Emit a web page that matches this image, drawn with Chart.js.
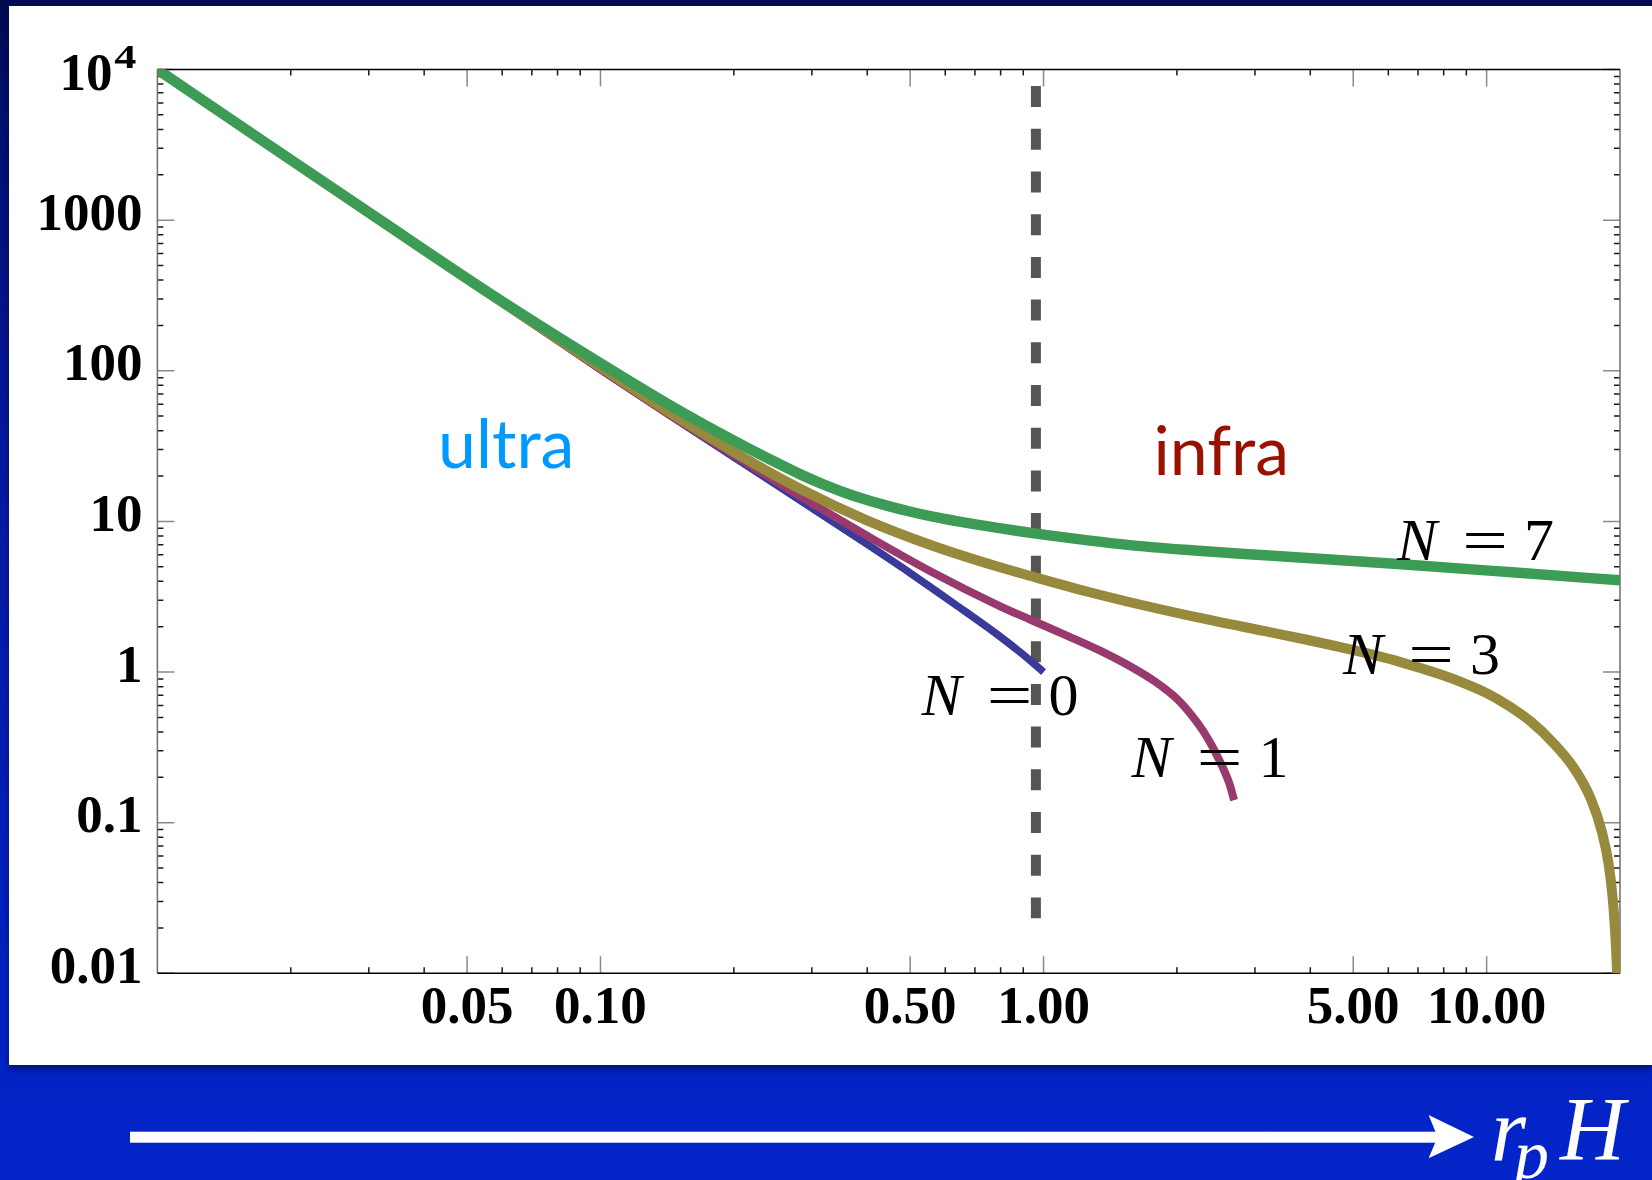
<!DOCTYPE html>
<html>
<head>
<meta charset="utf-8">
<script src="https://cdn.jsdelivr.net/npm/chart.js@4.4.1/dist/chart.umd.min.js"></script>
<style>
html,body{margin:0;padding:0;width:1652px;height:1180px;overflow:hidden;}
body{position:relative;background:linear-gradient(180deg,#000b52 0px,#00106c 100px,#0719a0 450px,#0520bd 850px,#0425c9 1180px);}
#panel{position:absolute;left:9px;top:6px;width:1643px;height:1059px;background:#fff;box-shadow:0 4px 7px rgba(0,0,40,0.55);}
#chart{position:absolute;left:0;top:0;}
#deco{position:absolute;left:0;top:0;}
</style>
</head>
<body>
<div id="panel"></div>
<canvas id="chart" width="1652" height="1180"></canvas>
<svg id="deco" width="1652" height="1180" xmlns="http://www.w3.org/2000/svg">
  <rect x="130" y="1131.7" width="1310" height="11" fill="#fff"/>
  <polygon points="1428.6,1115 1474,1137 1428.6,1158.3 1437.6,1137" fill="#fff"/>
  <text x="1491" y="1160" fill="#fff" font-family="'Liberation Serif', serif" font-style="italic" font-size="90">r</text>
  <text x="1514" y="1178" fill="#fff" font-family="'Liberation Serif', serif" font-style="italic" font-size="70">p</text>
  <text x="1560" y="1160" fill="#fff" font-family="'Liberation Serif', serif" font-style="italic" font-size="90">H</text>
</svg>
<script>
// ---- axis ranges and ticks ----
const xMin = 0.01, xMax = 20;
const yMin = 0.01, yMax = 10000;
const xTickValues = [0.05, 0.1, 0.5, 1, 5, 10];
const xTickLabels = ["0.05", "0.10", "0.50", "1.00", "5.00", "10.00"];
const xMinorTicks = [0.02,0.03,0.04,0.06,0.07,0.08,0.09,0.2,0.3,0.4,0.6,0.7,0.8,0.9,2,3,4,6,7,8,9];
const yTickValues = [0.01, 0.1, 1, 10, 100, 1000, 10000];
const yTickLabels = ["0.01", "0.1", "1", "10", "100", "1000", "10^4"];
const yMinorTicks = [];
[0.01,0.1,1,10,100,1000].forEach(d => { for (let k = 2; k <= 9; k++) yMinorTicks.push(+(d*k).toPrecision(3)); });

// ---- series ----
const xN0 = [0.01, 0.0316, 0.0562, 0.1, 0.158, 0.251, 0.398, 0.501, 0.631, 0.794, 0.891, 1.0];
const yN0 = [10000, 1005, 321.4, 101.9, 41.9, 17.3, 7.11, 4.52, 2.818, 1.738, 1.334, 1.0];

const xN1 = [0.01, 0.0316, 0.0562, 0.1, 0.141, 0.2, 0.282, 0.398, 0.562, 0.794, 0.94, 1.122, 1.334, 1.585, 1.778, 1.995, 2.163, 2.291, 2.399, 2.483, 2.57, 2.63, 2.692];
const yN1 = [10000, 1005, 322.1, 102.3, 52.5, 27.5, 14.7, 8.09, 4.58, 2.754, 2.208, 1.758, 1.396, 1.072, 0.871, 0.668, 0.513, 0.407, 0.324, 0.266, 0.214, 0.18, 0.141];

const xN3 = [0.01, 0.0316, 0.0562, 0.1, 0.141, 0.2, 0.282, 0.398, 0.562, 0.794, 0.94, 1.259, 1.585, 2.239, 3.162, 3.758, 5.012, 6.31, 7.943, 8.913, 10, 11.22, 12.59, 14.13, 15.85, 17.18, 18.2, 18.84, 19.28, 19.59, 19.77];
const yN3 = [10000, 1007, 323.6, 105.9, 54.5, 28.97, 16.48, 10.21, 6.90, 4.98, 4.32, 3.41, 2.884, 2.296, 1.866, 1.683, 1.396, 1.178, 0.955, 0.841, 0.724, 0.596, 0.468, 0.339, 0.224, 0.1445, 0.0871, 0.0537, 0.0302, 0.0148, 0.00794];

const xN7 = [0.01, 0.01778, 0.03162, 0.05623, 0.1, 0.1413, 0.1995, 0.2512, 0.2818, 0.3162, 0.3548, 0.3981, 0.4467, 0.5012, 0.5623, 0.631, 0.7079, 0.7943, 0.8913, 1.0, 1.259, 1.585, 2.239, 3.162, 6.31, 11.22, 20];
const yN7 = [10000, 3177, 1014, 326.6, 112.2, 60.7, 34.5, 24.3, 20.6, 17.74, 15.56, 13.9, 12.62, 11.59, 10.76, 10.09, 9.51, 9.02, 8.57, 8.17, 7.48, 6.93, 6.38, 5.96, 5.21, 4.61, 4.06];

const dividerX = [0.961, 0.961];
const dividerY = [7760, 0.0232];

// ---- text annotations (anchor in data coordinates) ----
const regionLabels = [
  { text: "ultra", x: 0.0430, y: 22.6, color: "#0099ff" },
  { text: "infra", x: 1.770, y: 20.3, color: "#991100" }
];
const curveLabels = [
  { n: "7", x: 6.277, y: 5.53 },
  { n: "3", x: 4.74, y: 0.968 },
  { n: "0", x: 0.5304, y: 0.5174 },
  { n: "1", x: 1.580, y: 0.2005 }
];

const pts = (xs, ys) => xs.map((x, i) => ({ x: x, y: ys[i] }));
const tickFamily = '"Liberation Serif", "Times New Roman", serif';

const framePlugin = {
  id: 'frameTicks',
  beforeDatasetsDraw(chart) {
    const { ctx, chartArea: a, scales } = chart;
    const sx = scales.x, sy = scales.y;
    ctx.save();
    ctx.lineCap = 'butt';
    function xt(vals, len, color, w) {
      ctx.strokeStyle = color; ctx.lineWidth = w;
      vals.forEach(v => {
        const p = sx.getPixelForValue(v);
        ctx.beginPath();
        ctx.moveTo(p, a.bottom); ctx.lineTo(p, a.bottom - len);
        ctx.moveTo(p, a.top); ctx.lineTo(p, a.top + len);
        ctx.stroke();
      });
    }
    function yt(vals, len, color, w) {
      ctx.strokeStyle = color; ctx.lineWidth = w;
      vals.forEach(v => {
        const p = sy.getPixelForValue(v);
        ctx.beginPath();
        ctx.moveTo(a.left, p); ctx.lineTo(a.left + len, p);
        ctx.moveTo(a.right, p); ctx.lineTo(a.right - len, p);
        ctx.stroke();
      });
    }
    xt(xMinorTicks, 6, '#1a1a1a', 1.5);
    xt(xTickValues, 17, '#8a8a8a', 1.5);
    yt(yMinorTicks, 6, '#1a1a1a', 1.5);
    yt(yTickValues, 17, '#8a8a8a', 1.5);
    ctx.lineWidth = 1.5;
    ctx.strokeStyle = '#6e6e6e';
    ctx.beginPath();
    ctx.moveTo(a.left, a.top); ctx.lineTo(a.left, a.bottom);
    ctx.moveTo(a.right, a.top); ctx.lineTo(a.right, a.bottom);
    ctx.stroke();
    ctx.strokeStyle = '#000';
    ctx.beginPath();
    ctx.moveTo(a.left, a.top); ctx.lineTo(a.right, a.top);
    ctx.moveTo(a.left, a.bottom); ctx.lineTo(a.right, a.bottom);
    ctx.stroke();
    // tick labels with a power (e.g. 10^4)
    ctx.fillStyle = '#000';
    ctx.textAlign = 'right';
    ctx.textBaseline = 'alphabetic';
    yTickLabels.forEach((lab, i) => {
      if (lab.indexOf('^') < 0) return;
      const [base, pw] = lab.split('^');
      const py = sy.getPixelForValue(yTickValues[i]);
      ctx.font = 'bold 53px ' + tickFamily;
      ctx.fillText(base, a.left - 45, py + 20.5);
      ctx.save();
      ctx.translate(a.left - 21, py - 1.5);
      ctx.scale(1.3, 1);
      ctx.font = 'bold 34px ' + tickFamily;
      ctx.fillText(pw, 0, 0);
      ctx.restore();
    });
    ctx.restore();
  },
  afterDatasetsDraw(chart) {
    const { ctx, scales } = chart;
    const sx = scales.x, sy = scales.y;
    ctx.save();
    ctx.textBaseline = 'alphabetic';
    regionLabels.forEach(l => {
      ctx.font = '68px Lato, "Open Sans", sans-serif';
      ctx.fillStyle = l.color;
      ctx.textAlign = 'left';
      ctx.fillText(l.text, sx.getPixelForValue(l.x), sy.getPixelForValue(l.y));
    });
    ctx.fillStyle = '#000';
    curveLabels.forEach(l => {
      const px = sx.getPixelForValue(l.x), py = sy.getPixelForValue(l.y);
      ctx.textAlign = 'left';
      ctx.font = 'italic 60px "Liberation Serif", serif';
      ctx.fillText('N', px, py);
      ctx.save();
      ctx.translate(px + 88, py);
      ctx.scale(1.35, 1);
      ctx.textAlign = 'center';
      ctx.font = '60px "Liberation Serif", serif';
      ctx.fillText('=', 0, 0);
      ctx.restore();
      ctx.textAlign = 'center';
      ctx.font = '60px "Liberation Serif", serif';
      ctx.fillText(l.n, px + 142, py);
    });
    ctx.restore();
  }
};

const tickFont = { family: tickFamily, weight: 'bold', size: 53 };

new Chart(document.getElementById('chart'), {
  type: 'line',
  data: {
    datasets: [
      { label: 'N = 7', data: pts(xN7, yN7), borderColor: '#3c9b55', borderWidth: 10.5, order: 0 },
      { label: 'N = 3', data: pts(xN3, yN3), borderColor: '#978a3c', borderWidth: 10, order: 1 },
      { label: 'N = 1', data: pts(xN1, yN1), borderColor: '#993a6e', borderWidth: 8, order: 2 },
      { label: 'N = 0', data: pts(xN0, yN0), borderColor: '#3a3a99', borderWidth: 7.5, order: 3 },
      { label: 'divider', data: pts(dividerX, dividerY), borderColor: '#555555', borderWidth: 10,
        borderDash: [21, 21.7], cubicInterpolationMode: 'default', tension: 0, order: 4 }
    ]
  },
  options: {
    responsive: false,
    animation: false,
    devicePixelRatio: 1,
    layout: { padding: { left: 0, right: 32, top: 69.5, bottom: 0 } },
    plugins: { legend: { display: false }, tooltip: { enabled: false }, title: { display: false } },
    elements: {
      point: { radius: 0, hoverRadius: 0 },
      line: { fill: false, cubicInterpolationMode: 'monotone', borderCapStyle: 'butt', borderJoinStyle: 'round' }
    },
    scales: {
      x: {
        type: 'logarithmic', position: 'bottom', min: xMin, max: xMax,
        grid: { display: false, drawTicks: false }, border: { display: false },
        afterBuildTicks: s => { s.ticks = xTickValues.map(v => ({ value: v })); },
        afterFit: s => { s.height = 206.7; },
        ticks: { autoSkip: false, maxRotation: 0, minRotation: 0, padding: 4, color: '#000', font: tickFont,
                 callback: (v, i) => xTickLabels[i] }
      },
      y: {
        type: 'logarithmic', position: 'left', min: yMin, max: yMax,
        grid: { display: false, drawTicks: false }, border: { display: false },
        afterBuildTicks: s => { s.ticks = yTickValues.map(v => ({ value: v })); },
        afterFit: s => { s.width = 157.4; },
        ticks: { autoSkip: false, padding: 15, labelOffset: -4, color: '#000', font: tickFont,
                 callback: (v, i) => (yTickLabels[i].indexOf('^') >= 0 ? '' : yTickLabels[i]) }
      }
    }
  },
  plugins: [framePlugin]
});
</script>
</body>
</html>
